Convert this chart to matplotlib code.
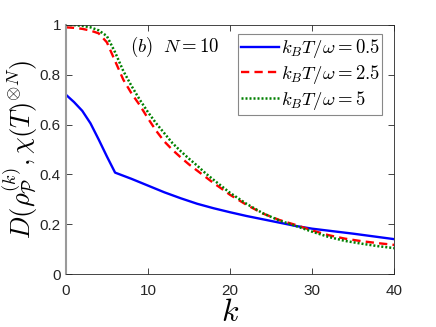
import numpy as np
from matplotlib import pyplot as plt

# values
k_blue = [0, 1, 2, 3, 4, 5, 6, 8, 10, 12, 14, 16, 18, 20, 22, 25, 28, 30, 33, 35, 40]
d_blue = [0.72, 0.69, 0.655, 0.605, 0.54, 0.472, 0.407, 0.382, 0.355, 0.328, 0.304, 0.282, 0.264, 0.248,
          0.233, 0.213, 0.193, 0.182, 0.17, 0.162, 0.14]

k_curve = [0, 1, 2, 3, 4, 5, 6, 7, 8, 9, 10, 11, 12, 13, 14, 15, 16, 17, 18, 19, 20,
           22, 24, 26, 28, 30, 32, 34, 36, 38, 40]
d_red = [0.99, 0.988, 0.984, 0.977, 0.966, 0.93, 0.855, 0.78, 0.725, 0.678, 0.625, 0.575, 0.532, 0.498, 0.468,
         0.44, 0.415, 0.39, 0.365, 0.342, 0.318, 0.278, 0.243, 0.217, 0.197, 0.175, 0.156, 0.142, 0.132, 0.124, 0.117]
d_green = [1.0, 0.999, 0.996, 0.99, 0.978, 0.955, 0.89, 0.815, 0.755, 0.70, 0.65, 0.605, 0.565, 0.525, 0.493,
           0.463, 0.435, 0.405, 0.378, 0.352, 0.326, 0.282, 0.244, 0.215, 0.193, 0.17, 0.149, 0.133, 0.122, 0.112, 0.104]

labels = [r'$k_BT/\omega = 0.5$', r'$k_BT/\omega = 2.5$', r'$k_BT/\omega = 5$']

plt.rcParams['mathtext.fontset'] = 'cm'
plt.rcParams['font.family'] = ['Liberation Sans', 'DejaVu Sans']

fig = plt.figure(figsize=(4.36, 3.27), dpi=100)
ax = fig.add_axes([0.151, 0.162, 0.753, 0.762])

ax.plot(k_blue, d_blue, color='#0000ff', lw=1.7, label=labels[0])
ax.plot(k_curve, d_red, color='#ff0000', lw=1.7, ls=(0, (3.5, 2.2)), label=labels[1])
ax.plot(k_curve, d_green, color='#008000', lw=1.8, ls=(0, (0.8, 0.8)), label=labels[2])

ax.set_xlim(0, 40)
ax.set_ylim(0, 1)
ax.set_xticks([0, 10, 20, 30, 40])
ax.set_yticks([0, 0.2, 0.4, 0.6, 0.8, 1])
ax.set_yticklabels(['0', '0.2', '0.4', '0.6', '0.8', '1'])
ax.tick_params(direction='in', top=True, right=True, labelsize=11, length=4,
               color='#262626', labelcolor='#262626', width=0.6)
ax.tick_params(axis='x', pad=7)
for s in ax.spines.values():
    s.set_color('#262626')
    s.set_linewidth(0.6)
ax.spines['left'].set_color('#9a9a9a')
ax.spines['left'].set_linewidth(1.5)

ax.set_xlabel(r'$k$', fontsize=23, labelpad=0)
ax.set_ylabel(r'$D(\rho_{\mathcal{P}}^{(k)},\chi(T)^{\otimes N})$', fontsize=19, labelpad=1)

ax.text(7.8, 0.91, r'$(b)$', fontsize=13.5, va='center')
ax.text(11.8, 0.91, r'$N = 10$', fontsize=13.5, va='center')

leg = ax.legend(loc='upper right', bbox_to_anchor=(0.964, 0.962), fontsize=13.5,
                handlelength=2.0, handletextpad=0.1, borderpad=0.15, labelspacing=0.15,
                fancybox=False, framealpha=1, borderaxespad=0)
leg.get_frame().set_edgecolor('#888888')
leg.get_frame().set_linewidth(0.8)

plt.savefig('out.png', dpi=100)
